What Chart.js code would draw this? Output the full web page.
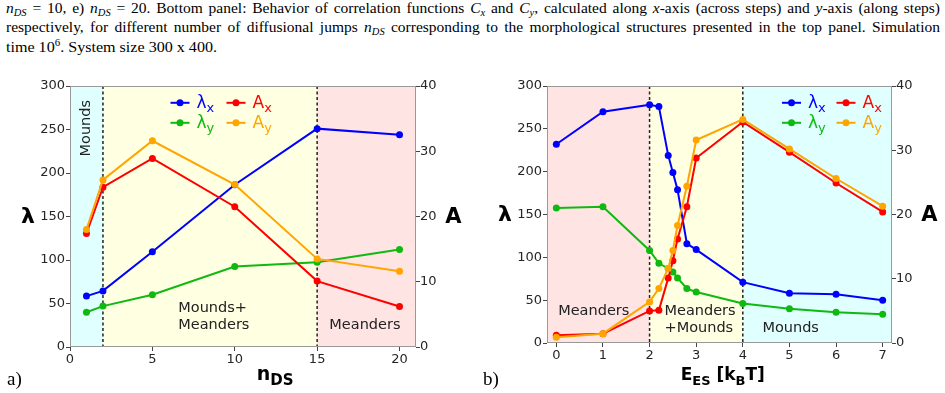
<!DOCTYPE html>
<html>
<head>
<meta charset="utf-8">
<script src="https://cdn.jsdelivr.net/npm/chart.js@4.4.0/dist/chart.umd.min.js"></script>
<style>
  body { margin:0; width:945px; height:393px; background:#fff; position:relative; overflow:hidden; font-family:"Liberation Serif", serif; color:#000; }
  .cap { position:absolute; left:6px; font-size:15.5px; line-height:18px; white-space:nowrap; transform-origin:0 0; }
  .cap sub, .cap sup { font-size:10.5px; line-height:0; }
  .cap sub { vertical-align:-3px; }
  .cap sup { vertical-align:6px; }
  .panel { position:absolute; top:70px; }
  .tag { position:absolute; font-size:19px; line-height:22px; top:368px; }
</style>
</head>
<body>
<div class="cap" id="l1" style="top:-1px"><i>n</i><sub><i>DS</i></sub> = 10, e) <i>n</i><sub><i>DS</i></sub> = 20. Bottom panel: Behavior of correlation functions <i>C</i><sub><i>x</i></sub> and <i>C</i><sub><i>y</i></sub>, calculated along <i>x</i>-axis (across steps) and <i>y</i>-axis (along steps)</div>
<div class="cap" id="l2" style="top:18px">respectively, for different number of diffusional jumps <i>n</i><sub><i>DS</i></sub> corresponding to the morphological structures presented in the top panel. Simulation</div>
<div class="cap" id="l3" style="top:37.5px">time 10<sup>6</sup>. System size 300 x 400.</div>

<canvas id="chartA" class="panel" style="left:0" width="470" height="323"></canvas>
<canvas id="chartB" class="panel" style="left:470px" width="475" height="323"></canvas>
<div class="tag" style="left:7px">a)</div>
<div class="tag" style="left:483px">b)</div>

<script>
// panel a: lambda and amplitude vs n_DS
var nds = [1, 2, 5, 10, 15, 20];
var lamXa = [58.5, 64.5, 109.5, 186.5, 251, 244];
var lamYa = [40, 47, 60, 92.5, 97.5, 112];
var ampXa = [17.4, 24.5, 28.9, 21.5, 10.1, 6.2];
var ampYa = [18.0, 25.6, 31.6, 24.9, 13.5, 11.6];
var ticksA = [0, 5, 10, 15, 20];
var bordersA = [2, 15];

// panel b: lambda and amplitude vs E_ES
var ees = [0, 1, 2, 2.2, 2.4, 2.5, 2.6, 2.8, 3, 4, 5, 6, 7];
var lamXb = [232, 270, 278, 276, 219, 199, 179, 116, 109, 71, 58, 57, 50];
var lamYb = [157.5, 159, 108, 93, 87, 83, 76, 63.5, 59.5, 46, 40, 36, 33.5];
var ampXb = [1.2, 1.45, 5.0, 5.1, 10.1, 12.8, 16.2, 21.2, 28.8, 34.4, 29.7, 24.9, 20.4];
var ampYb = [0.9, 1.45, 6.4, 8.5, 11.6, 14.4, 18.3, 24.4, 31.6, 34.8, 30.2, 25.6, 21.3];
var ticksB = [0, 1, 2, 3, 4, 5, 6, 7];
var bordersB = [2, 4];

var lamTicks = [0, 50, 100, 150, 200, 250, 300];
var ampTicks = [0, 10, 20, 30, 40];

var BLUE = '#0000ff', RED = '#ff0000', GREEN = '#10b910', ORANGE = '#ffa500';
var CYAN = '#e0ffff', YELLOW = '#ffffe2', PINK = '#ffe4e4';
var SANS = '"DejaVu Sans"';

// fit caption lines to the page width
function fitLine(id, target, justify) {
  var el = document.getElementById(id);
  var w = el.getBoundingClientRect().width;
  if (justify && w < target) {
    var spaces = el.textContent.split(' ').length - 1;
    el.style.wordSpacing = ((target - w) / spaces) + 'px';
  } else {
    el.style.transform = 'scaleX(' + (target / w) + ')';
  }
}
fitLine('l1', 934, true);
fitLine('l2', 934, true);
fitLine('l3', 211, false);

function drawRich(ctx, parts, x, y) {
  ctx.textAlign = 'left';
  ctx.textBaseline = 'alphabetic';
  parts.forEach(function (p) {
    ctx.font = p.f;
    ctx.fillStyle = p.c || '#000';
    ctx.fillText(p.t, x, y + (p.dy || 0));
    x += ctx.measureText(p.t).width;
  });
}

function decor(o) {
  return {
    id: 'decor',
    beforeDatasetsDraw: function (chart) {
      var ctx = chart.ctx, a = chart.chartArea, xs = chart.scales.x;
      var edges = [a.left].concat(o.borders.map(function (v) { return xs.getPixelForValue(v); }), [a.right]);
      ctx.save();
      for (var i = 0; i < o.fills.length; i++) {
        ctx.fillStyle = o.fills[i];
        ctx.fillRect(edges[i], a.top, edges[i + 1] - edges[i], a.bottom - a.top);
      }
      ctx.strokeStyle = '#222';
      ctx.lineWidth = 1.5;
      ctx.setLineDash([3, 2.5]);
      for (var j = 1; j < edges.length - 1; j++) {
        ctx.beginPath();
        ctx.moveTo(edges[j], a.top);
        ctx.lineTo(edges[j], a.bottom);
        ctx.stroke();
      }
      ctx.restore();
      // zone labels
      ctx.save();
      ctx.fillStyle = '#222';
      ctx.font = '14.5px ' + SANS;
      ctx.textBaseline = 'middle';
      var ys = chart.scales.y;
      o.labels.forEach(function (l) {
        var px = xs.getPixelForValue(l.x), py = ys.getPixelForValue(l.y);
        if (l.rot) {
          ctx.save();
          ctx.translate(px, py);
          ctx.rotate(-Math.PI / 2);
          ctx.textAlign = 'center';
          ctx.fillText(l.t, 0, 0);
          ctx.restore();
        } else {
          ctx.textAlign = 'left';
          ctx.fillText(l.t, px, py);
        }
      });
      ctx.restore();
    },
    afterDatasetsDraw: function (chart) {
      var ctx = chart.ctx, a = chart.chartArea;
      ctx.save();
      // frame
      ctx.strokeStyle = '#999';
      ctx.lineWidth = 1;
      ctx.strokeRect(a.left + 0.5, a.top + 0.5, a.right - a.left - 1, a.bottom - a.top - 1);
      // legend (2 x 2)
      var items = [
        { t: 'λ', s: 'x', c: BLUE, col: 0, row: 0 },
        { t: 'A', s: 'x', c: RED, col: 1, row: 0 },
        { t: 'λ', s: 'y', c: GREEN, col: 0, row: 1 },
        { t: 'A', s: 'y', c: ORANGE, col: 1, row: 1 }
      ];
      items.forEach(function (it) {
        var x0 = a.left + o.legX[it.col], y0 = a.top + 16.8 + it.row * 20;
        ctx.strokeStyle = it.c;
        ctx.fillStyle = it.c;
        ctx.lineWidth = 2;
        ctx.beginPath();
        ctx.moveTo(x0, y0);
        ctx.lineTo(x0 + 19, y0);
        ctx.stroke();
        ctx.beginPath();
        ctx.arc(x0 + 9.5, y0, 3.5, 0, Math.PI * 2);
        ctx.fill();
        drawRich(ctx, [
          { t: it.t, f: '17px ' + SANS, c: it.c },
          { t: it.s, f: '13px ' + SANS, c: it.c, dy: 3.5 }
        ], x0 + 26, y0 + 5.6);
      });
      // y titles, upright
      ctx.fillStyle = '#000';
      ctx.textAlign = 'center';
      ctx.textBaseline = 'middle';
      var my = (a.top + a.bottom) / 2;
      ctx.font = 'bold 22px ' + SANS;
      ctx.fillText('λ', a.left - 42, my + 1);
      ctx.font = 'bold 21px ' + SANS;
      ctx.fillText('A', a.right + 37.5, my + 1);
      // x title
      drawRich(ctx, o.xTitle, a.left + o.xTitleX, a.bottom + o.xTitleY);
      ctx.restore();
    }
  };
}

function series(xs, vals, color, axis, order) {
  return {
    data: xs.map(function (v, i) { return { x: v, y: vals[i] }; }),
    borderColor: color,
    backgroundColor: color,
    borderWidth: 2,
    pointRadius: 3.5,
    pointHoverRadius: 3.5,
    pointBorderWidth: 0,
    tension: 0,
    yAxisID: axis,
    order: order
  };
}

function makeChart(id, xs, vals, o) {
  var tickFont = { family: SANS, size: 13 };
  return new Chart(document.getElementById(id), {
    type: 'line',
    data: {
      datasets: [
        series(xs, vals[0], BLUE, 'y', 4),
        series(xs, vals[1], GREEN, 'y', 3),
        series(xs, vals[2], RED, 'y1', 2),
        series(xs, vals[3], ORANGE, 'y1', 1)
      ]
    },
    options: {
      responsive: false,
      animation: false,
      events: [],
      layout: { padding: { top: 16, left: 0, right: 0, bottom: 0 } },
      plugins: { legend: { display: false }, tooltip: { enabled: false } },
      scales: {
        x: {
          type: 'linear', min: o.xmin, max: o.xmax,
          afterBuildTicks: function (s) { s.ticks = o.xticks.map(function (v) { return { value: v }; }); },
          afterFit: function (s) { s.height = o.xh; },
          grid: { drawOnChartArea: false, tickLength: 4, color: '#444' },
          border: { display: false },
          ticks: { font: tickFont, color: '#262626', padding: 1, maxRotation: 0, autoSkip: false }
        },
        y: {
          position: 'left', min: 0, max: 300,
          afterBuildTicks: function (s) { s.ticks = lamTicks.map(function (v) { return { value: v }; }); },
          afterFit: function (s) { s.width = o.yl; },
          grid: { drawOnChartArea: false, tickLength: 4, color: '#444' },
          border: { display: false },
          ticks: { font: tickFont, color: '#262626', padding: 1 }
        },
        y1: {
          position: 'right', min: 0, max: 40,
          afterBuildTicks: function (s) { s.ticks = ampTicks.map(function (v) { return { value: v }; }); },
          afterFit: function (s) { s.width = o.yr; },
          grid: { drawOnChartArea: false, tickLength: 4, color: '#444' },
          border: { display: false },
          ticks: { font: tickFont, color: '#262626', padding: 0 }
        }
      }
    },
    plugins: [decor(o)]
  });
}

makeChart('chartA', nds, [lamXa, lamYa, ampXa, ampYa], {
  xmin: 0, xmax: 21, xticks: ticksA, xh: 46, yl: 70, yr: 54,
  borders: bordersA, fills: [CYAN, YELLOW, PINK],
  labels: [
    { t: 'Mounds', x: 0.98, y: 251.5, rot: true },
    { t: 'Mounds+', x: 6.57, y: 44.5 },
    { t: 'Meanders', x: 6.57, y: 24.5 },
    { t: 'Meanders', x: 15.74, y: 24.5 }
  ],
  legX: [100.5, 156.5],
  xTitle: [
    { t: 'n', f: 'bold 19px ' + SANS },
    { t: 'DS', f: 'bold 15px ' + SANS, dy: 5 }
  ],
  xTitleX: 186.7, xTitleY: 33
});

makeChart('chartB', ees, [lamXb, lamYb, ampXb, ampYb], {
  xmin: -0.2, xmax: 7.2, xticks: ticksB, xh: 50, yl: 77, yr: 53,
  borders: bordersB, fills: [PINK, YELLOW, CYAN],
  labels: [
    { t: 'Meanders', x: 0.04, y: 37.6 },
    { t: 'Meanders', x: 2.32, y: 37.6 },
    { t: '+Mounds', x: 2.32, y: 17.1 },
    { t: 'Mounds', x: 4.42, y: 17.1 }
  ],
  legX: [235, 289.5],
  xTitle: [
    { t: 'E', f: 'bold 17px ' + SANS },
    { t: 'ES', f: 'bold 13px ' + SANS, dy: 5 },
    { t: ' [k', f: 'bold 17px ' + SANS },
    { t: 'B', f: 'bold 13px ' + SANS, dy: 5 },
    { t: 'T]', f: 'bold 17px ' + SANS }
  ],
  xTitleX: 133.7, xTitleY: 37
});
</script>
</body>
</html>
